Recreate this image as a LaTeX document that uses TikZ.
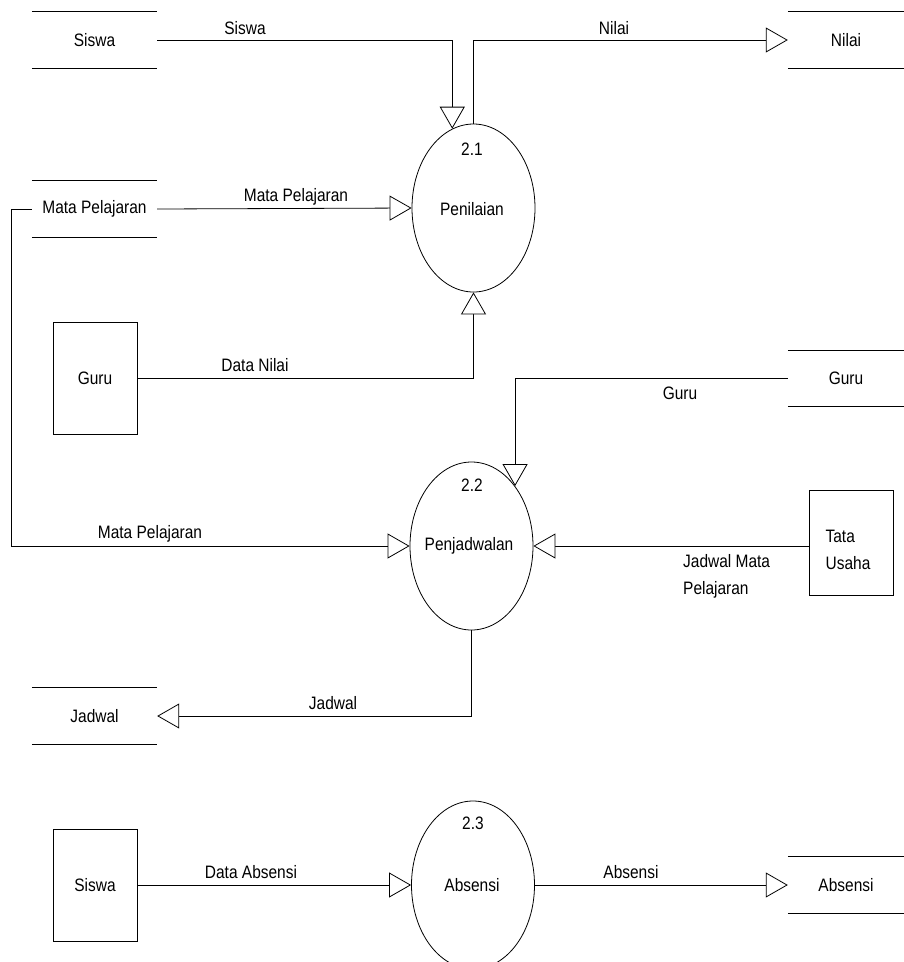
\documentclass[tikz,border=0pt]{standalone}
\usepackage{fontspec}
\setmainfont{Liberation Sans}[FakeStretch=0.86]
\usetikzlibrary{arrows.meta,shapes.geometric}

\tikzset{
  flow/.style={draw, line width=0.8pt, -{Triangle[open,length=22pt,width=25pt,fill=white]}},
  proc/.style={ellipse, draw, line width=0.8pt, minimum width=123pt, minimum height=168pt, inner sep=0pt},
  entity/.style={rectangle, draw, line width=0.8pt, minimum width=84pt, minimum height=112pt, inner sep=0pt},
  storeL/.style={minimum width=125pt, minimum height=56pt, inner sep=0pt},
  storeR/.style={minimum width=116pt, minimum height=56pt, inner sep=0pt},
  lbl/.style={inner sep=0pt}
}

\begin{document}
\begin{tikzpicture}[x=1pt,y=-1pt,font=\fontsize{18}{21}\selectfont]
\useasboundingbox (0,0) rectangle (904,962);

% data stores
\node[storeL] (s1) at (94.5,40) {Siswa};
\node[storeL] (mp) at (94.5,209) {Mata Pelajaran};
\node[storeL] (jad) at (94.5,716) {Jadwal};
\node[storeR] (nilai) at (846,40) {Nilai};
\node[storeR] (gs) at (846,378.5) {Guru};
\node[storeR] (abs) at (846,885) {Absensi};
\foreach \s in {s1,mp,jad,nilai,gs,abs}
  \draw[line width=0.8pt] (\s.north west) -- (\s.north east) (\s.south west) -- (\s.south east);

% entities
\node[entity] (guru) at (95,378) {Guru};
\node[entity] (se) at (95,885) {Siswa};
\node[entity, minimum height=105pt] (tu) at (851,542.5) {};
\node[lbl, align=left] (tut) at (848,550) {Tata\\[6pt]Usaha};

% processes
\node[proc] (p1) at (473.5,208) {};
\node[proc] (p2) at (471.5,546) {};
\node[proc] (p3) at (473,885) {};
\node[lbl] (n1) at (472,149) {2.1};
\node[lbl] (t1) at (472,209) {Penilaian};
\node[lbl] (n2) at (472,485) {2.2};
\node[lbl] (t2) at (469,546) {Penjadwalan};
\node[lbl] (n3) at (473,823) {2.3};
\node[lbl] (t3) at (472,885) {Absensi};

% flows
\draw[flow] (s1.east) -| (p1.105);
\draw[flow] (p1.north) |- (nilai.west);
\draw[flow] (mp.east) -- (p1.west);
\draw[flow] (guru.east) -| (p1.south);
\draw[flow] (gs.west) -| (p2.54);
\draw[flow] (mp.west) -- ++(-20,0) |- (p2.west);
\draw[flow] (tu.west |- p2.east) -- (p2.east);
\draw[flow] (p2.south) |- (jad.east);
\draw[flow] (se.east) -- (p3.west);
\draw[flow] (p3.east) -- (abs.west);

% flow labels
\node[lbl] (l1) at (245,28) {Siswa};
\node[lbl] (l2) at (614,28) {Nilai};
\node[lbl] (l3) at (296,197) {Mata Pelajaran};
\node[lbl] (l4) at (255,365) {Data Nilai};
\node[lbl] (l5) at (680,393) {Guru};
\node[lbl] (l6) at (150,534) {Mata Pelajaran};
\node[lbl, align=left, anchor=west] (l7) at (683,576) {Jadwal Mata\\[6pt]Pelajaran};
\node[lbl] (l8) at (333,703) {Jadwal};
\node[lbl] (l9) at (251,872) {Data Absensi};
\node[lbl] (l10) at (631,872) {Absensi};
\end{tikzpicture}
\end{document}
